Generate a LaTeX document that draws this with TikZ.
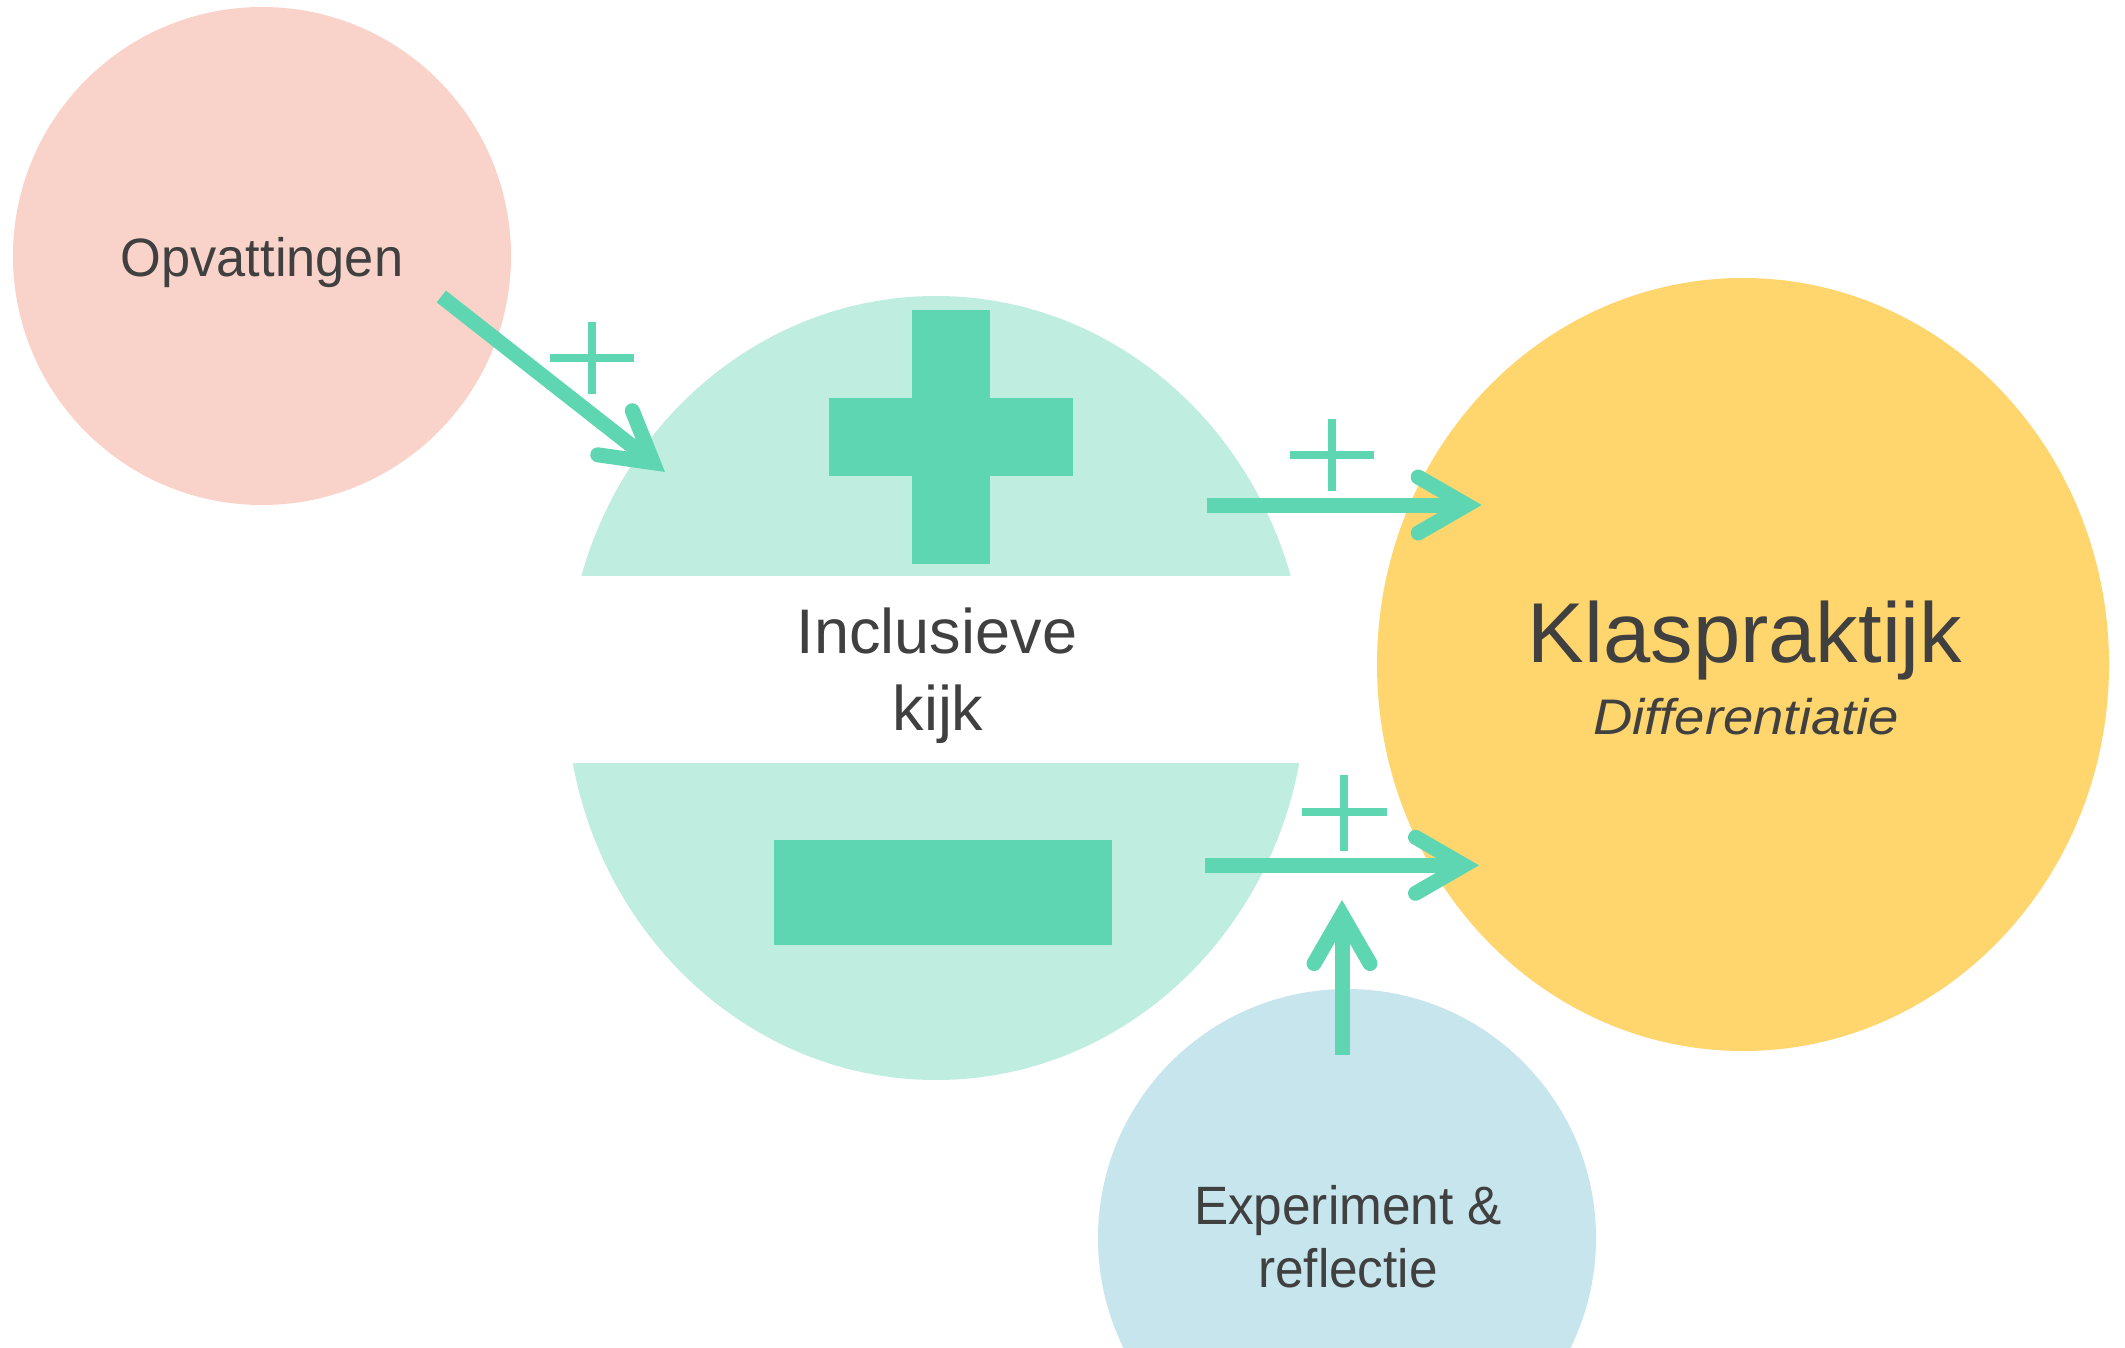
\documentclass[tikz,border=0pt]{standalone}
\usepackage{fontspec}
\setmainfont{Liberation Sans}
\usetikzlibrary{shapes.geometric,calc}
\definecolor{pinkc}{RGB}{249,211,201}
\definecolor{lgreen}{RGB}{191,237,223}
\definecolor{dgreen}{RGB}{94,214,178}
\definecolor{yellowc}{RGB}{255,213,110}
\definecolor{bluec}{RGB}{199,229,236}
\definecolor{txt}{RGB}{64,64,64}
\newcommand{\drawchevron}[2]{\draw[head] ($(#1)+(#2+150:56)$) -- (#1) -- ($(#1)+(#2-150:56)$);}
\tikzset{
  blob/.style={draw=none, inner sep=0pt},
  conn/.style={draw=dgreen, line width=15pt, line cap=butt},
  head/.style={draw=dgreen, line width=15pt, line cap=round, line join=miter, miter limit=10},
  sign/.style={draw=dgreen, line width=8pt, line cap=butt},
  lbl/.style={text=txt, inner sep=0pt, anchor=base},
}
\begin{document}
\begin{tikzpicture}[x=1pt,y=-1pt]
\clip (0,0) rectangle (2125,1348);
\fill[white] (0,0) rectangle (2125,1348);
% circles
\node[blob, circle, fill=pinkc, minimum size=498pt] (opv) at (262,256) {};
\node[blob, ellipse, fill=lgreen, minimum width=740pt, minimum height=784pt] (inc) at (936,688) {};
\fill[white] (560,576) rectangle (1320,763);
\fill[dgreen] (911.7,310) rectangle (990,564);
\fill[dgreen] (829,397.7) rectangle (1073.3,475.7);
\fill[dgreen] (774,840) rectangle (1112,945);
\node[blob, ellipse, fill=yellowc, minimum width=732pt, minimum height=773pt] (kla) at (1743,664.5) {};
\node[blob, circle, fill=bluec, minimum size=498pt] (exp) at (1347,1238) {};
% labels
\node[lbl, font=\fontsize{54}{64}\selectfont] (topv) at (262,276.7) {\scalebox{0.97}[1]{Opvattingen}};
\node[lbl, font=\fontsize{63}{75}\selectfont] (tinc1) at (937,653) {Inclusieve};
\node[lbl, font=\fontsize{63}{75}\selectfont] (tinc2) at (938,730) {kijk};
\node[lbl, font=\fontsize{85}{100}\selectfont] (tkla) at (1745,662.7) {Klaspraktijk};
\node[lbl, font=\fontsize{50}{60}\selectfont\itshape] (tdif) at (1746,734) {\scalebox{1.09}[1]{Differentiatie}};
\node[lbl, font=\fontsize{54}{64}\selectfont] (texp1) at (1348,1224) {\scalebox{0.95}[1]{Experiment \&}};
\node[lbl, font=\fontsize{54}{64}\selectfont] (texp2) at (1348,1287) {\scalebox{0.95}[1]{reflectie}};
% arrows
\coordinate (a1s) at (441.3,296.5);
\coordinate (a1p) at (653.2,462.7);
\draw[conn] (a1s) -- (a1p);
\drawchevron{a1p}{38.1}
\coordinate (a2s) at (1206.7,505);
\coordinate (a2p) at (1466.7,505);
\draw[conn] (a2s) -- (a2p);
\drawchevron{a2p}{0}
\coordinate (a3s) at (1205,865.3);
\coordinate (a3p) at (1464,865.3);
\draw[conn] (a3s) -- (a3p);
\drawchevron{a3p}{0}
\coordinate (a4s) at (1342,1055);
\coordinate (a4p) at (1342,915);
\draw[conn] (a4s) -- (a4p);
\drawchevron{a4p}{-90}
% small plus signs
\draw[sign] (550,358) -- (634,358);
\draw[sign] (592,322) -- (592,394);
\draw[sign] (1290,455) -- (1374,455);
\draw[sign] (1332,419) -- (1332,491);
\draw[sign] (1302,812) -- (1387,812);
\draw[sign] (1344,775) -- (1344,851);
\end{tikzpicture}
\end{document}
